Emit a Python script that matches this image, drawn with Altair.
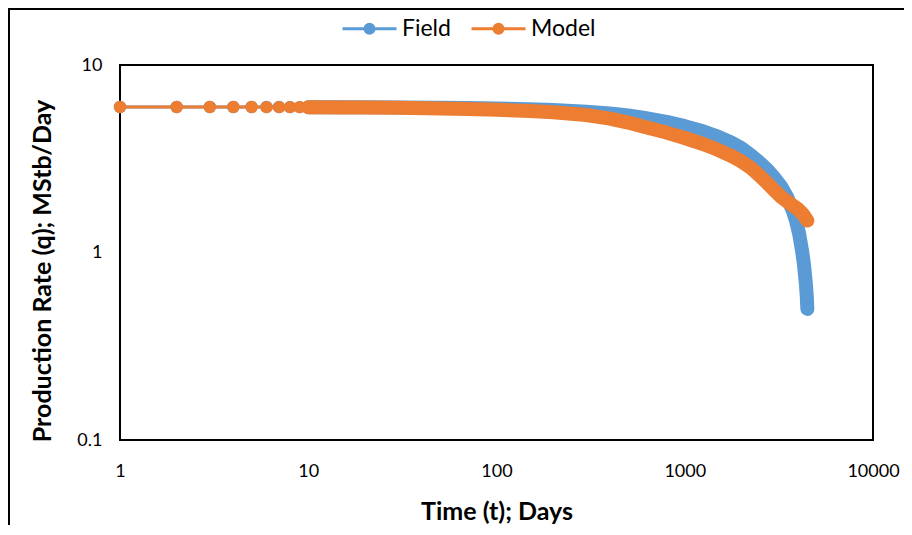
import altair as alt
import pandas as pd

# ---------------- data ----------------
field_t = [1, 2, 3, 4, 5, 6, 7, 8, 9, 10, 15, 20, 30, 50, 70, 100, 150, 200, 300, 400,
           500, 600, 800, 1000, 1250, 1500, 1750, 2000, 2250, 2500, 2750, 3000, 3250,
           3500, 3750, 3900, 4050, 4200, 4300, 4400, 4450, 4480]
field_q = [5.97, 5.97, 5.97, 5.97, 5.97, 5.97, 5.97, 5.96, 5.96, 5.96, 5.96, 5.95, 5.94,
           5.91, 5.89, 5.86, 5.81, 5.76, 5.64, 5.52, 5.38, 5.24, 4.98, 4.72, 4.43, 4.15,
           3.88, 3.60, 3.30, 3.02, 2.76, 2.50, 2.25, 1.97, 1.67, 1.48, 1.26, 1.02, 0.86,
           0.68, 0.58, 0.50]

model_t = [1, 2, 3, 4, 5, 6, 7, 8, 9, 10, 15, 20, 30, 50, 70, 100, 150, 200, 300, 400,
           500, 600, 800, 1000, 1250, 1500, 1750, 2000, 2250, 2500, 2750, 3000, 3250,
           3500, 3750, 4000, 4250, 4480]
model_q = [5.97, 5.97, 5.97, 5.97, 5.97, 5.96, 5.96, 5.96, 5.96, 5.95, 5.94, 5.93, 5.91,
           5.87, 5.83, 5.77, 5.69, 5.60, 5.41, 5.18, 4.93, 4.70, 4.36, 4.08, 3.79, 3.53,
           3.29, 3.06, 2.82, 2.57, 2.34, 2.14, 1.98, 1.87, 1.78, 1.70, 1.60, 1.48]

series_names = ["Field", "Model"]
series_colors = ["#5B9BD5", "#ED7D31"]
x_tick_values = [1, 10, 100, 1000, 10000]
y_tick_values = [0.1, 1, 10]

field_df = pd.DataFrame({"t": field_t, "q": field_q, "series": "Field"})
model_df = pd.DataFrame({"t": model_t, "q": model_q, "series": "Model"})

FONT = "Lato"
PLOT_W, PLOT_H = 753, 375

# legend symbol: a line with a filled dot (dot built from concentric stroked rings)
rings = [0.0556, 0.111, 0.1667]
legend_path = "M-1,0L1,0" + "".join(
    f"M{r},0A{r},{r},0,1,1,{-r},0A{r},{r},0,1,1,{r},0" for r in rings
)

x_enc = alt.X(
    "t:Q",
    scale=alt.Scale(type="log", domain=[1, 10000]),
    axis=alt.Axis(values=x_tick_values, format="d", title="Time (t); Days",
                  titleY=79, titleBaseline="alphabetic", labelPadding=22,
                  labelFlush=False),
)
y_enc = alt.Y(
    "q:Q",
    scale=alt.Scale(type="log", domain=[0.1, 10]),
    axis=alt.Axis(values=y_tick_values, format="~g",
                  title="Production Rate (q); MStb/Day",
                  titleX=-70, titleY=PLOT_H / 2 + 18, titleAngle=270,
                  titleBaseline="alphabetic", labelPadding=18, labelFlush=False),
)
color_scale = alt.Scale(domain=series_names, range=series_colors)

legend_def = alt.Legend(
    title=None, orient="none", direction="horizontal",
    legendX=221, legendY=-65, symbolType=legend_path, symbolSize=2916,
    symbolStrokeWidth=3, labelFont=FONT, labelFontSize=23, labelColor="black",
    labelOffset=4, columnPadding=14, padding=0,
)


def series_layers(df):
    base = alt.Chart(df).encode(x=x_enc, y=y_enc)
    line = base.mark_line(strokeWidth=3).encode(
        color=alt.Color("series:N", scale=color_scale, legend=legend_def))
    band = base.transform_filter("datum.t >= 10").mark_line(
        strokeWidth=14, strokeCap="round", strokeJoin="round").encode(
        color=alt.Color("series:N", scale=color_scale, legend=None))
    pts = base.mark_circle(size=154, opacity=1).encode(
        color=alt.Color("series:N", scale=color_scale, legend=None))
    return [line, band, pts]


frame = alt.Chart(pd.DataFrame({"k": [0]})).mark_rect(
    fillOpacity=0, stroke="black", strokeWidth=2).encode(
    x=alt.value(-111), x2=alt.value(1400), y=alt.value(-56), y2=alt.value(1400))

chart = alt.layer(
    frame, *series_layers(field_df), *series_layers(model_df)
).properties(
    width=PLOT_W, height=PLOT_H,
    padding={"left": 112, "top": 57, "right": 31, "bottom": 85},
    autosize=alt.AutoSizeParams(type="none"),
    background="white",
).configure_view(
    stroke="black", strokeWidth=2
).configure_axis(
    domain=False, ticks=False, grid=False,
    labelFont=FONT, labelFontSize=18, labelColor="black",
    titleFont=FONT, titleFontSize=25, titleFontWeight="bold", titleColor="black",
)

chart.save("out.html", embed_options={"renderer": "svg", "actions": False})
